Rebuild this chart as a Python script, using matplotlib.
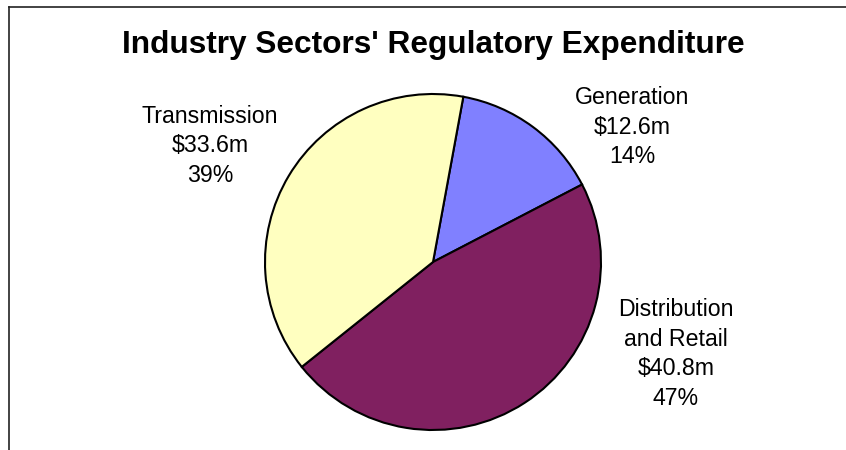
import matplotlib
matplotlib.use('Agg')
import matplotlib.pyplot as plt

plt.rcParams['font.family'] = ['Liberation Sans', 'DejaVu Sans']

# Regulatory expenditure by sector ($m)
sectors = ['Generation', 'Distribution\nand Retail', 'Transmission']
spend = [12.6, 40.8, 33.6]
colors = ['#8080FF', '#802060', '#FFFFC0']

# label anchor positions (pixel coords, y measured from the top)
label_pos = [(632, 127), (676, 354), (210, 146)]

W, H = 846, 450
fig = plt.figure(figsize=(W / 100, H / 100), dpi=100)
ax = fig.add_axes([0, 0, 1, 1])

# chart frame (only top and left edges show in the crop)
ax.plot([9, 9], [-5, H - 7], color='#222222', lw=1.2, clip_on=False)
ax.plot([9, W + 5], [H - 7, H - 7], color='#222222', lw=1.2, clip_on=False)

ax.pie(spend, colors=colors, startangle=79.6, counterclock=False,
       center=(433, H - 262), radius=168, frame=True,
       wedgeprops=dict(edgecolor='black', linewidth=1.5))
ax.set_xlim(0, W)
ax.set_ylim(0, H)
ax.set_aspect('equal')
ax.axis('off')

total = sum(spend)
for name, val, (px, py) in zip(sectors, spend, label_pos):
    txt = f"{name}\n${val:.1f}m\n{val / total * 100:.0f}%"
    ax.text(px, H - py, txt, ha='center', va='center', fontsize=16.7,
            linespacing=1.37, color='black')

ax.text(433, H - 53, "Industry Sectors' Regulatory Expenditure",
        ha='center', va='baseline', fontsize=22.8, fontweight='bold')

fig.savefig('out.png', dpi=100)
